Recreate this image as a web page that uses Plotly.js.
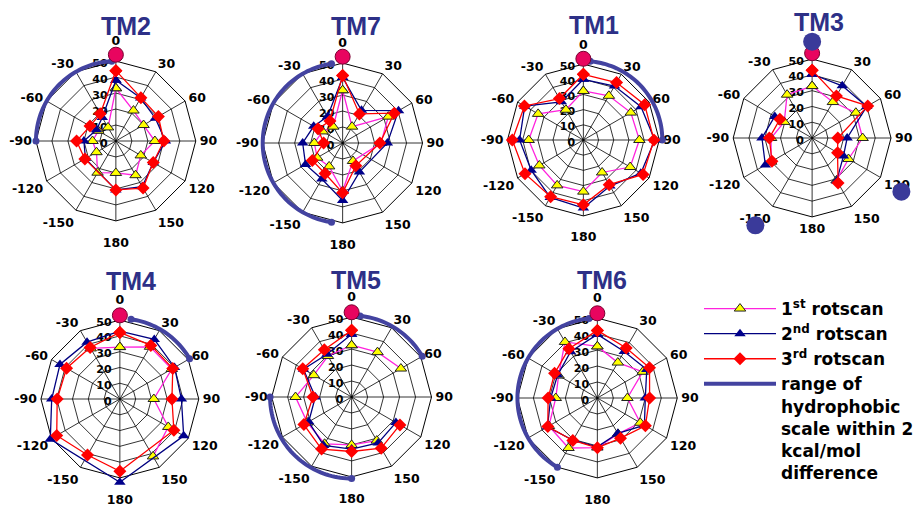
<!DOCTYPE html>
<html><head><meta charset="utf-8">
<script src="https://cdn.plot.ly/plotly-3.0.1.min.js"></script>
<style>html,body{margin:0;padding:0;background:#fff}#chart{width:919px;height:518px}</style>
</head><body><div id="chart"></div>
<script>
// ---------- DATA ----------
const angles = [0,30,60,90,120,150,180,210,240,270,300,330];
const angleLabels = ['0','30','60','90','120','150','180','-150','-120','-90','-60','-30'];
const radialTicks = [0,10,20,30,40,50];
const panelNames = ['TM2','TM7','TM1','TM3','TM4','TM5','TM6'];
const seriesNames = ['1<sup>st</sup> rotscan','2<sup>nd</sup> rotscan','3<sup>rd</sup> rotscan'];
const rangeName = 'range of<br>hydrophobic<br>scale within 2<br>kcal/mol<br>difference';

// 1st rotscan
const tm2_scan1 = [33,22,20,24.4,18,24.7,20,22.9,14,14.6,12.7,9.8];
const tm7_scan1 = [33,11.8,33,24,null,13,30,16.9,18.4,17.7,14.5,11.8];
const tm1_scan1 = [32.3,33.6,36.1,36.9,35.6,24.7,34,34.5,33.5,36,34.4,23];
const tm3_scan1 = [32.9,26.3,32,32,26.6,31,null,null,30,26,20.4,31.7];
const tm4_scan1 = [32.9,38.2,38,21.5,35.4,42,null,null,null,null,null,37];
const tm5_scan1 = [32.4,32.4,35.6,null,null,31.5,30,33.8,32,35.1,27.3,29.6];
const tm6_scan1 = [32.3,25.6,32.8,18.8,31,25.9,31,36.1,35,26,28,40.5];
// 2nd rotscan
const tm2_scan2 = [38,31,28.5,31,27,33,30.6,null,22,20,14,17];
const tm7_scan2 = [41,23.6,40.4,28,null,21,36,26,26.8,25,20.9,19];
const tm1_scan2 = [40,41,43.8,47,43.7,35,44.8,43.7,39.7,42,44.6,29];
const tm3_scan2 = [40.4,38.2,40,22.2,22.9,31.2,null,null,34.2,31.8,27.3,null];
const tm4_scan2 = [43,43.6,40,39,46.7,null,52.7,null,50.9,43.2,43.8,41.6];
const tm5_scan2 = [39.3,null,null,null,32,33.2,32.6,35,31,22.7,34.8,30.9];
const tm6_scan2 = [39.8,33.6,35.7,30,34,25.6,30.6,30.5,36,29.2,28.7,33.5];
// 3rd rotscan
const tm2_scan3 = [44,31.3,30.7,30,27,34,30.6,null,22.4,24.6,18.7,19.6];
const tm7_scan3 = [42.3,21,37.3,23.3,null,16.5,31.2,22,21.9,11.9,17.8,15.9];
const tm1_scan3 = [43.3,43.7,46.6,46.5,45.4,34,42.7,43.1,44.4,46.8,44.8,31.5];
const tm3_scan3 = [43,30.8,40.7,16.3,18.6,32.9,null,null,29.4,27.1,23.6,null];
const tm4_scan3 = [42.2,39.2,38.7,33,39.5,null,45.8,41,46.2,39.7,39,37.7];
const tm5_scan3 = [41.7,null,null,null,34.9,37,34.1,37.6,34.5,24.2,35.3,34.2];
const tm6_scan3 = [42.3,36.1,37.7,32.7,34.7,29,31.2,30.7,35.8,30.8,30.9,35.6];

// whether missing points are bridged (per panel: scan1, scan2, scan3)
const bridgeGaps = [[true,true,true],[true,true,true],[false,false,false],[false,false,false],[false,true,true],[false,false,false],[false,false,false]];

// reference marker at 0 deg
const refCircleR = [54,54,53.5,53.7,53,53,53];
// extra TM3 markers
const tm3ExtraTheta = [0,121,213];
const tm3ExtraR = [61,66,66];

// hydrophobic-scale ranges (panel index, from, to, radius)
const arcPanel = [0,1,2,4,5,5,6];
const arcFrom  = [357,352,5,8,6,270,354];
const arcTo    = [270,188,90,60,60,180,210];
const arcR     = [50,50,52,51,51,51,50];

// ---------- LAYOUT CONFIG ----------
const W=919,H=518;
const centers=[[116,141],[343,143],[584,140],[813,138],[120,399],[352,397],[598,398]];
const radii=[80,80,76,79,79,80,80];
const outerMax=[58,58,58,66.5,58,58,58];   // radial range of the overlay used for marks
const titlePos=[[126,26],[356,26],[595,25],[820,22],[131,281],[356,280],[603,280]];
const farLabels=['0','180'];               // labels that sit further out (drawn by the overlay axis)
const farLabelAngles=[0,180];

const scan1=[tm2_scan1,tm7_scan1,tm1_scan1,tm3_scan1,tm4_scan1,tm5_scan1,tm6_scan1];
const scan2=[tm2_scan2,tm7_scan2,tm1_scan2,tm3_scan2,tm4_scan2,tm5_scan2,tm6_scan2];
const scan3=[tm2_scan3,tm7_scan3,tm1_scan3,tm3_scan3,tm4_scan3,tm5_scan3,tm6_scan3];
const scans=[scan1,scan2,scan3];

const styles=[
  {line:{color:'#FF22DD',width:1.3},marker:{symbol:'triangle-up',size:10,color:'#FFFF00',line:{color:'#222',width:1}}},
  {line:{color:'#000080',width:1.3},marker:{symbol:'triangle-up',size:10,color:'#00008B',line:{width:0}}},
  {line:{color:'#FF0000',width:1.3},marker:{symbol:'diamond',size:10,color:'#FF0000',line:{width:0}}}
];
const arcColor='#4343A0';
const thetaClosed = angles.concat([360]);
const gridId = i => i===0?'polar':'polar'+(i+1);     // axes / grid subplot
const markId = i => 'polar'+(i+8);                     // overlay subplot for marks

const traces=[];
// invisible traces that define the angular categories of the grid subplots
for(let p=0;p<7;p++){
  traces.push({type:'scatterpolar',subplot:gridId(p),mode:'markers',theta:angleLabels,
    r:angleLabels.map(()=>null),showlegend:false,hoverinfo:'skip',marker:{opacity:0}});
}
// arcs
arcPanel.forEach((p,k)=>{
  const a=arcFrom[k], b=arcTo[k];
  const n=Math.ceil(Math.abs(b-a)/2);
  const th=[], rr=[];
  for(let j=0;j<=n;j++){th.push(a+(b-a)*j/n); rr.push(arcR[k]);}
  traces.push({type:'scatterpolar',subplot:markId(p),mode:'lines',r:rr,theta:th,
    line:{color:arcColor,width:4},cliponaxis:false,hoverinfo:'skip',
    name:rangeName,showlegend:k===0,legendgroup:'g4',legendrank:4});
  traces.push({type:'scatterpolar',subplot:markId(p),mode:'markers',r:[arcR[k],arcR[k]],theta:[a,b],
    marker:{size:7,color:arcColor},cliponaxis:false,showlegend:false,hoverinfo:'skip'});
});
// scans
for(let p=0;p<7;p++){
  for(let s=0;s<3;s++){
    const v=scans[s][p];
    traces.push({type:'scatterpolar',subplot:markId(p),mode:'lines+markers',
      r:v.concat([v[0]]),theta:thetaClosed,connectgaps:bridgeGaps[p][s],
      line:styles[s].line,marker:styles[s].marker,cliponaxis:false,
      name:seriesNames[s],showlegend:p===0,legendgroup:'g'+(s+1),legendrank:s+1});
  }
  traces.push({type:'scatterpolar',subplot:markId(p),mode:'markers',r:[refCircleR[p]],theta:[0],
    marker:{size:15,color:'#E8055F',line:{color:'#7A0030',width:1}},cliponaxis:false,showlegend:false});
}
traces.push({type:'scatterpolar',subplot:markId(3),mode:'markers',r:tm3ExtraR,theta:tm3ExtraTheta,
  marker:{size:18,color:'#3A3A9A'},cliponaxis:false,showlegend:false});

const angFont={family:'DejaVu Sans, Verdana, sans-serif',size:12.5,color:'#000',weight:'bold'};
const radFont={family:'DejaVu Sans, Verdana, sans-serif',size:11,color:'#000',weight:'bold'};
const layout={width:W,height:H,margin:{l:0,r:0,t:0,b:0},paper_bgcolor:'#fff',
  showlegend:true,
  legend:{x:700/W,y:1-291/H,xanchor:'left',yanchor:'top',valign:'top',traceorder:'grouped',tracegroupgap:0,
    itemwidth:72,
    font:{family:'DejaVu Sans, Verdana, sans-serif',size:17,color:'#000',weight:'bold'},bgcolor:'rgba(0,0,0,0)'},
  annotations:[]};
for(let i=0;i<7;i++){
  const c=centers[i], rd=radii[i], ro=rd*outerMax[i]/50;
  const useFar = outerMax[i]===58;
  const gridText = angleLabels.map(l => (useFar && farLabels.includes(l)) ? '' : l);
  layout[gridId(i)]={
    domain:{x:[(c[0]-rd)/W,(c[0]+rd)/W],y:[1-(c[1]+rd)/H,1-(c[1]-rd)/H]},
    gridshape:'linear',bgcolor:'rgba(0,0,0,0)',
    radialaxis:{range:[0,50],tickvals:radialTicks,angle:90,side:'counterclockwise',showline:false,
      gridcolor:'#000',gridwidth:0.8,ticks:'',tickfont:radFont},
    angularaxis:{type:'category',categoryorder:'array',categoryarray:angleLabels,
      tickmode:'array',tickvals:angleLabels,ticktext:gridText,
      rotation:90,direction:'clockwise',
      gridcolor:'#000',gridwidth:0.8,linecolor:'#000',linewidth:1,ticks:'outside',ticklen:1,
      tickcolor:'rgba(0,0,0,0)',tickfont:angFont}
  };
  layout[markId(i)]={
    domain:{x:[(c[0]-ro)/W,(c[0]+ro)/W],y:[1-(c[1]+ro)/H,1-(c[1]-ro)/H]},
    bgcolor:'rgba(0,0,0,0)',
    radialaxis:{range:[0,outerMax[i]],visible:false,showgrid:false},
    angularaxis:useFar ? {rotation:90,direction:'clockwise',showgrid:false,showline:false,ticks:'',
        tickmode:'array',tickvals:farLabelAngles,ticktext:farLabels,tickfont:angFont}
      : {rotation:90,direction:'clockwise',visible:false,showgrid:false,showline:false}
  };
  layout.annotations.push({text:panelNames[i],xref:'paper',yref:'paper',x:titlePos[i][0]/W,y:1-titlePos[i][1]/H,
    xanchor:'center',yanchor:'middle',showarrow:false,
    font:{family:'Liberation Sans, Arial, sans-serif',size:25,color:'#2D3087',weight:'bold'}});
}
Plotly.newPlot('chart',traces,layout,{displayModeBar:false,staticPlot:true});
</script></body></html>
